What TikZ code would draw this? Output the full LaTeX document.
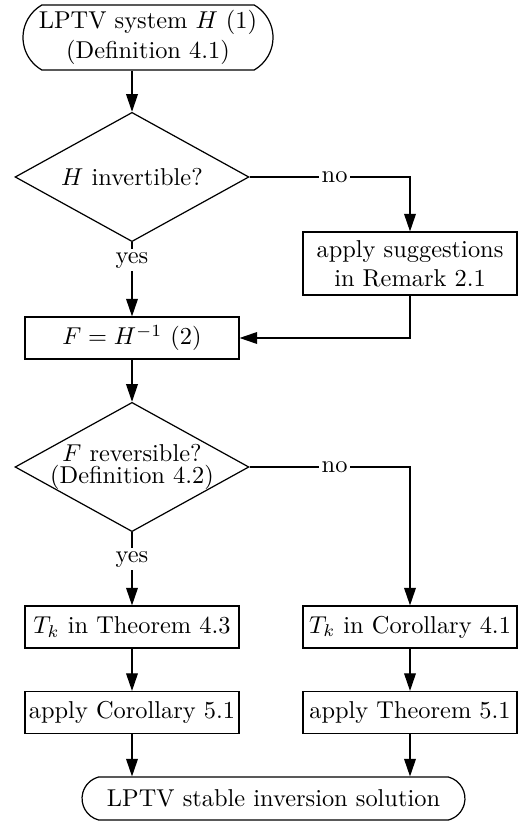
\documentclass[tikz,border=0pt]{standalone}
\usetikzlibrary{shapes.geometric,shapes.misc,arrows.meta}
\begin{document}
\begin{tikzpicture}[x=0.41pt,y=-0.41pt,
  every path/.style={line width=0.5pt},
  arr/.style={draw,-{Triangle[length=7.2pt,width=4.8pt]}},
  stepbox/.style={draw,rectangle,inner sep=1pt,minimum width=87.7pt,minimum height=17.2pt,align=center},
  decision/.style={draw,diamond,inner sep=0pt,minimum width=95.9pt,minimum height=53pt},
  terminal/.style={draw,rounded rectangle,inner sep=0pt,align=center},
  lbl/.style={fill=white,inner sep=1.2pt}]
\useasboundingbox (0,0) rectangle (517,822);

\node[terminal,rounded rectangle arc length=120,minimum width=102.5pt,minimum height=26.6pt] (start) at (148,37.5) {LPTV system $H$ (1)\\(Definition 4.1)};
\node[decision,label={[name=d1t]center:$H$ invertible?}] (d1) at (132,177) {};
\node[stepbox,minimum height=25.8pt] (rem) at (410,263.5) {apply suggestions\\in Remark 2.1};
\node[stepbox] (F) at (132,338) {$F = H^{-1}$\ (2)};
\node[decision,label={[name=d2t,align=center,yshift=0.2pt]center:$F$ reversible?\\[-3pt](Definition 4.2)}] (d2) at (132,467) {};
\node[stepbox] (tk1) at (132,627) {$T_k$ in Theorem 4.3};
\node[stepbox] (tk2) at (410,627) {$T_k$ in Corollary 4.1};
\node[stepbox] (ac) at (132,712.5) {apply Corollary 5.1};
\node[stepbox] (at) at (410,712.5) {apply Theorem 5.1};
\node[terminal,rounded rectangle arc length=150,minimum width=157pt,minimum height=17.6pt] (end) at (273.5,798.5) {LPTV stable inversion solution};

\draw[arr] (d1.north |- start.south) -- (d1.north);
\draw[arr] (d1.east) -- node[lbl,pos=0.53] (no1) {no} (d1.east -| rem.north) -- (rem.north);
\draw[arr] (d1.south) -- node[lbl,pos=0.24] (yes1) {yes} (F.north);
\draw[arr] (rem.south) |- (F.east);
\draw[arr] (F.south) -- (d2.north);
\draw[arr] (d2.east) -- node[lbl,pos=0.53] (no2) {no} (d2.east -| tk2.north) -- (tk2.north);
\draw[arr] (d2.south) -- node[lbl,pos=0.37] (yes2) {yes} (tk1.north);
\draw[arr] (tk1.south) -- (ac.north);
\draw[arr] (tk2.south) -- (at.north);
\draw[arr] (ac.south) -- (ac.south |- end.north);
\draw[arr] (at.south) -- (at.south |- end.north);
\end{tikzpicture}
\end{document}
